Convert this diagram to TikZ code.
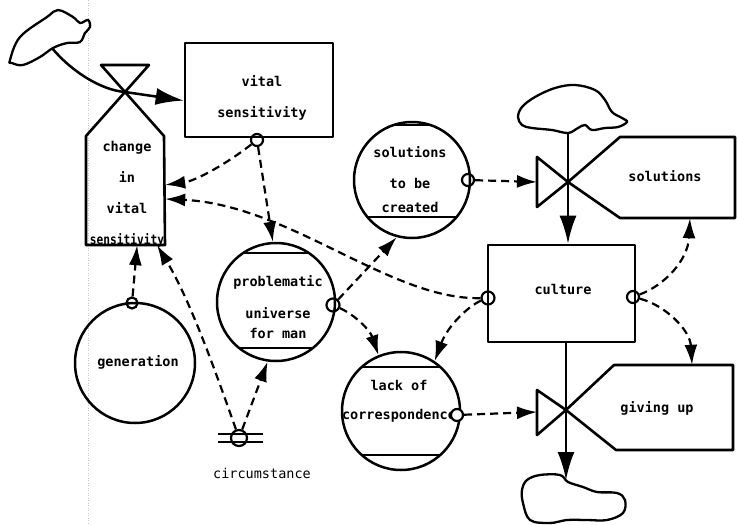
\documentclass[tikz,border=0pt]{standalone}
\usepackage{fontspec}
\newfontfamily\dmono{DejaVu Sans Mono}
\usetikzlibrary{arrows.meta,calc}
\begin{document}
\begin{tikzpicture}[x=1pt,y=-1pt,
  lbl/.style={inner sep=0pt, align=center, font=\dmono\bfseries\fontsize{13.5}{31}\selectfont},
  outline/.style={line width=2.6pt, line join=round},
  region/.style={inner sep=0pt, draw=none},
  level/.style={circle, draw, line width=2.5pt, inner sep=0pt, minimum size=118pt},
  marker/.style={circle, draw, line width=2.2pt, minimum size=12pt, inner sep=0pt},
  link/.style={line width=2.2pt, dash pattern=on 8pt off 5pt, -{Latex[length=20pt,width=13pt]}},
  flowarrow/.style={line width=2.5pt, -{Latex[length=28pt,width=17pt]}}]
\useasboundingbox (0,0) rectangle (737,525);
% scan guide line
\draw[gray!45, dotted, line width=0.5pt] (88,0) -- (88,525);

% ---- clouds
\draw[line width=2.3pt] plot[smooth cycle, tension=0.6] coordinates {(10,60) (20,37) (47,17) (58,10) (73,17) (80,23) (88,20) (90,27) (85,33) (80,42) (67,43) (53,48) (40,57) (23,65) (12,63)};
\draw[line width=2.3pt] plot[smooth cycle, tension=0.6] coordinates {(518,117) (522,107) (535,97) (555,88) (575,85) (595,90) (605,100) (612,112) (622,118) (627,122) (618,127) (605,128) (592,130) (585,125) (578,128) (568,133) (552,130) (532,128) (522,125)};
\draw[line width=2.3pt] plot[smooth cycle, tension=0.6] coordinates {(527,480) (540,475) (560,475) (568,482) (583,487) (597,492) (617,493) (625,500) (623,513) (607,520) (587,520) (567,520) (550,523) (530,520) (523,503) (522,490)};
\coordinate (c1out) at (52,48);
\coordinate (c2out) at (568,132);
\coordinate (c3in) at (566,480);

% ---- change in vital sensitivity (valve + rate box)
\coordinate (cv) at (125,92);
\draw[outline] (101,65) -- (149,65) -- (cv) -- cycle;
\draw[outline] (cv) -- (164,136) -- (165,245) -- (86,245) -- (86,136) -- cycle;
\node[region, minimum width=79pt, minimum height=109pt] (chg) at (125.5,190.5) {};
\node[lbl] (chgtxt) at (127,194) {change\\in\\vital\\\scalebox{0.83}[1]{sensitivity}};

% ---- vital sensitivity stock
\node[draw, outline, inner sep=0pt, minimum width=148pt, minimum height=94pt] (vs) at (259,90) {};
\node[lbl] (vstxt) at (262,98) {vital\\sensitivity};

% ---- culture stock
\node[draw, outline, inner sep=0pt, minimum width=147pt, minimum height=97pt] (cul) at (561.5,293.5) {};
\node[lbl] (cultxt) at (563,289) {culture};

% ---- solutions valve and box
\coordinate (sv) at (568,182);
\coordinate (svL) at (537,182);
\draw[outline] (537,157) -- (537,207) -- (sv) -- cycle;
\draw[outline] (sv) -- (620,137) -- (735,137) -- (735,218) -- (620,218) -- cycle;
\node[region, minimum width=115pt, minimum height=81pt] (sol) at (677.5,177.5) {};
\node[lbl] (soltxt) at (665,176) {solutions};

% ---- giving up valve and box
\coordinate (gv) at (566,410);
\coordinate (gvL) at (537,412);
\draw[outline] (537,390) -- (537,435) -- (gv) -- cycle;
\draw[outline] (gv) -- (614,365) -- (733,365) -- (733,450) -- (616,450) -- cycle;
\node[region, minimum width=120pt, minimum height=85pt] (gup) at (673,407.5) {};
\node[lbl] (guptxt) at (657,408) {giving up};

% ---- auxiliary circles
\node[level] (prob) at (276,302) {};
\draw[outline] (243.1,253) -- (308.9,253) (239.1,348) -- (312.9,348);
\node[lbl, font=\dmono\bfseries\fontsize{13.5}{20}\selectfont] (probtxt) at (278,307) {problematic\\[12pt]universe\\for man};

\node[level, minimum size=116pt] (stbc) at (412,180) {};
\draw[outline] (393.6,125) -- (430.4,125) (367.3,217) -- (456.7,217);
\node[lbl, font=\dmono\bfseries\fontsize{13.5}{24}\selectfont] (stbctxt) at (410,180) {solutions\\[7pt]to be\\created};

\node[level] (lack) at (401,411) {};
\draw[outline] (361.7,367) -- (440.3,367) (361.7,455) -- (440.3,455);
\node[lbl, font=\dmono\bfseries\fontsize{13.5}{29}\selectfont] (lacktxt) at (399,401) {lack of\\correspondence};

\node[level, minimum size=120pt] (gen) at (135,363) {};
\node[lbl] (gentxt) at (138,362) {generation};

% ---- circumstance
\node[marker, minimum size=16pt] (circ) at (239,438) {};
\draw[line width=2pt] (218,434) -- (263,434) (218,442) -- (263,442);
\node[inner sep=0pt, font=\dmono\fontsize{13.5}{16}\selectfont] (circtxt) at (262,473) {circumstance};

% ---- markers
\node[marker] (m1) at (257,140) {};
\node[marker, minimum size=13pt] (m2) at (333,305) {};
\node[marker] (m3) at (468,180) {};
\node[marker, minimum size=13pt] (m4) at (488,298) {};
\node[marker] (m5) at (633,297) {};
\node[marker, fill=white] (m6) at (457,415) {};
\node[marker, minimum size=11pt] (m7) at (132,303) {};

% ---- material flows
\draw[flowarrow] (c1out) .. controls (70,70) and (100,90) .. (cv) -- (vs.188);
\draw[flowarrow] (c2out) -- (sv) -- (sv |- cul.north);
\draw[flowarrow] (gv |- cul.south) -- (gv) -- (c3in);

% ---- information links
\draw[link] (m1) .. controls (225,165) and (195,181) .. (chg.8);
\draw[link] (m1) -- (prob.93);
\draw[link] (m4) .. controls (390,300) and (290,205) .. (chg.348);
\draw[link] (m4) .. controls (470,305) and (448,325) .. (lack.56);
\draw[link] (m2) .. controls (355,315) and (370,330) .. (lack.112);
\draw[link] (m2) -- (stbc.255);
\draw[link] (m3) -- (svL);
\draw[link] (m6) -- (gvL);
\draw[link] (m5) .. controls (665,285) and (688,260) .. (sol.287);
\draw[link] (m5) .. controls (665,305) and (690,330) .. (gup.66);
\draw[link] (m7) -- (chg.282);
\draw[link] (circ) .. controls (215,370) and (190,300) .. (chg.300);
\draw[link] (circ) -- (prob.262);
\end{tikzpicture}
\end{document}
